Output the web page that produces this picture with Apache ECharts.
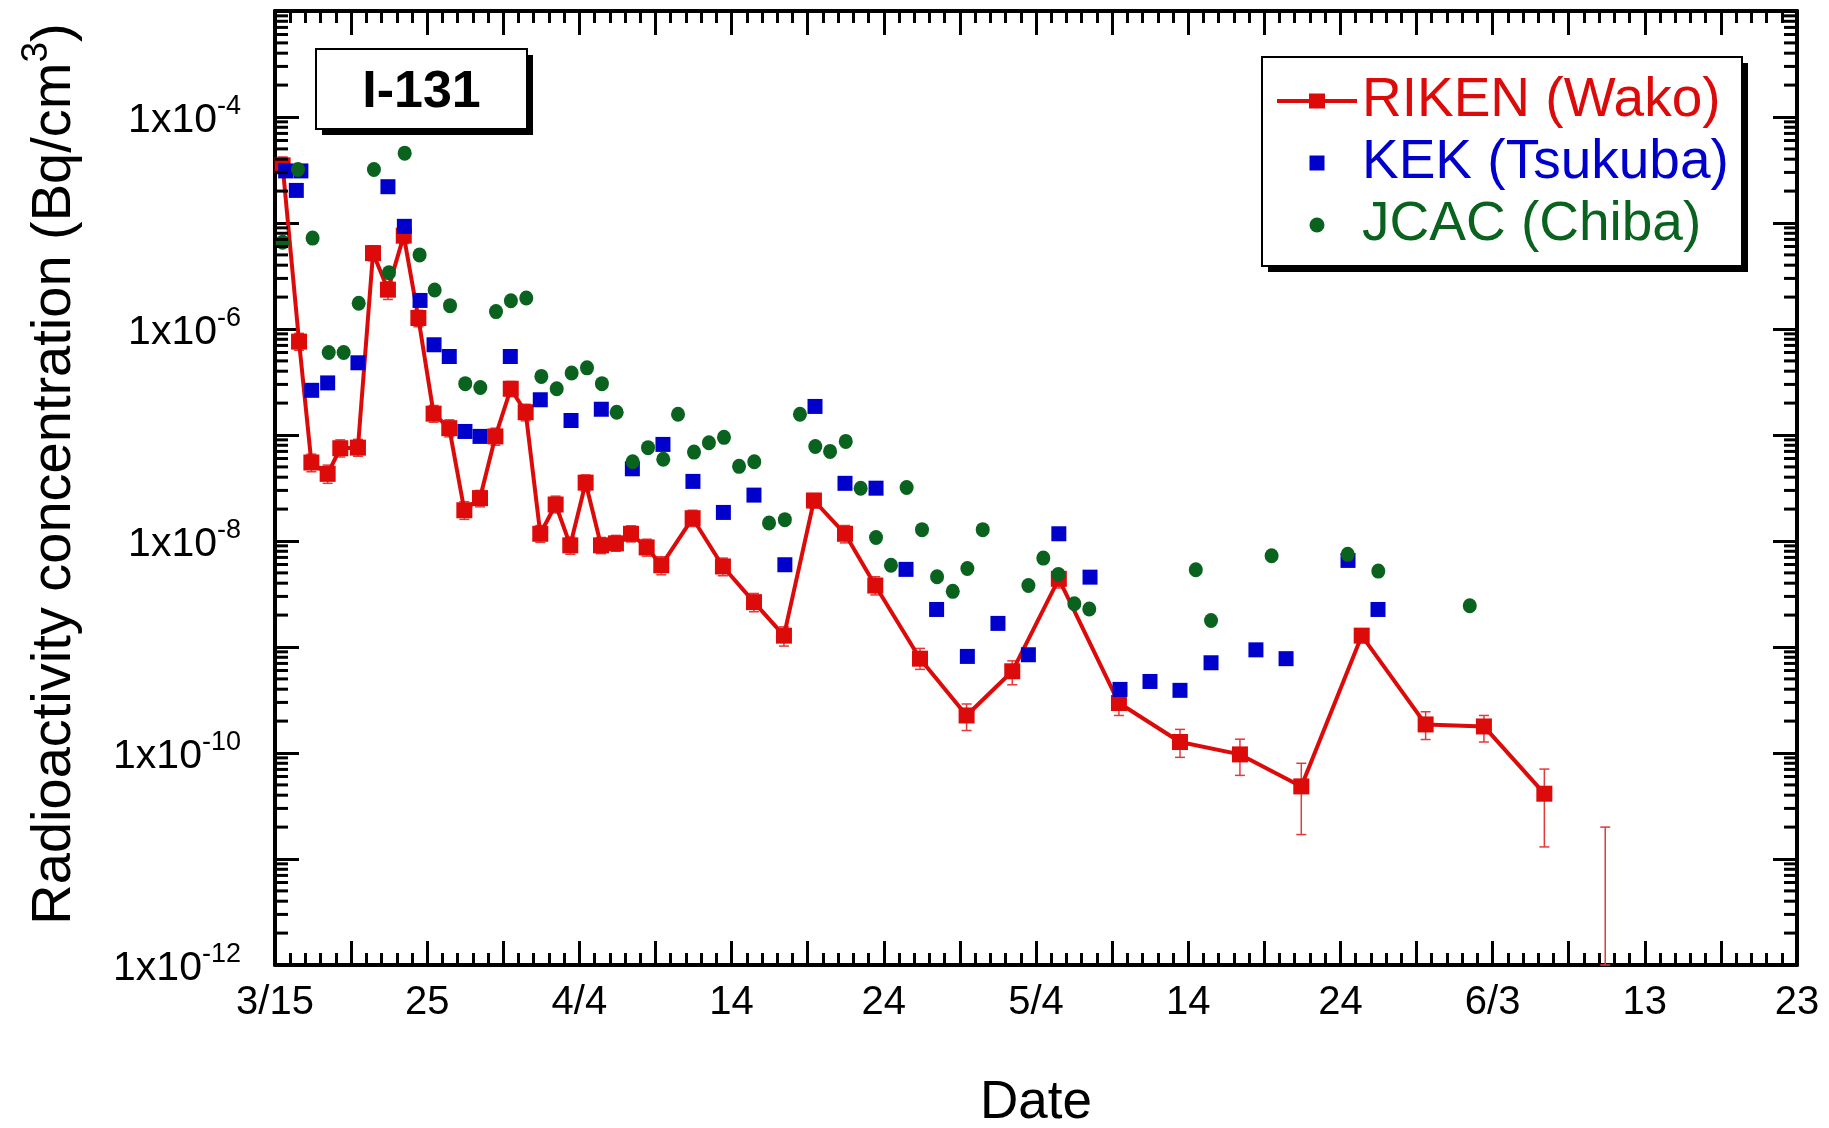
<!DOCTYPE html>
<html>
<head>
<meta charset="utf-8">
<script src="https://cdn.jsdelivr.net/npm/echarts@6/dist/echarts.min.js"></script>
<style>
html,body{margin:0;padding:0;background:#fff;}
#chart{width:1829px;height:1128px;}
</style>
</head>
<body>
<div id="chart"></div>
<script>
// ---------------- data (days since 3/15, Bq/cm3) ----------------
const xTickLabels = ['3/15','25','4/4','14','24','5/4','14','24','6/3','13','23'];

const rikenDays = [0.5,1.58,2.39,3.46,4.29,5.45,6.44,7.42,8.46,9.42,10.42,11.45,12.44,13.47,14.48,15.49,16.47,17.43,18.44,19.4,20.41,21.42,22.4,23.39,24.42,25.38,27.44,29.43,31.47,33.44,35.41,37.45,39.44,42.38,45.44,48.44,51.5,55.45,59.46,63.4,67.43,71.4,75.6,79.43,83.4];
const rikenValues = [3.5e-5,7.6e-7,5.5e-8,4.3e-8,7.5e-8,7.6e-8,5.2e-6,2.35e-6,7.6e-6,1.27e-6,1.59e-7,1.16e-7,1.95e-8,2.54e-8,9.7e-8,2.73e-7,1.64e-7,1.17e-8,2.21e-8,9.1e-9,3.55e-8,9.1e-9,9.5e-9,1.17e-8,8.7e-9,5.9e-9,1.64e-8,5.75e-9,2.65e-9,1.28e-9,2.41e-8,1.17e-8,3.8e-9,7.76e-10,2.26e-10,5.9e-10,4.4e-9,2.96e-10,1.27e-10,9.7e-11,4.84e-11,1.28e-9,1.86e-10,1.78e-10,4.13e-11];
const rikenLow = [2.9e-5,6.3e-7,4.5e-8,3.5e-8,6.2e-8,6.3e-8,4.4e-6,1.9e-6,6.4e-6,1.05e-6,1.32e-7,9.6e-8,1.6e-8,2.1e-8,8.0e-8,2.3e-7,1.36e-7,9.7e-9,1.84e-8,7.5e-9,2.95e-8,7.6e-9,8.0e-9,9.8e-9,7.2e-9,4.8e-9,1.37e-8,4.7e-9,2.15e-9,1.02e-9,2.05e-8,9.6e-9,3.1e-9,6.15e-10,1.63e-10,4.4e-10,3.6e-9,2.26e-10,9.1e-11,6.15e-11,1.7e-11,1.1e-9,1.34e-10,1.27e-10,1.3e-11];
const rikenHigh = [4.2e-5,9.1e-7,6.6e-8,5.2e-8,9.0e-8,9.1e-8,6.1e-6,2.8e-6,8.9e-6,1.5e-6,1.9e-7,1.39e-7,2.35e-8,3.0e-8,1.16e-7,3.2e-7,1.95e-7,1.4e-8,2.65e-8,1.09e-8,4.2e-8,1.08e-8,1.13e-8,1.39e-8,1.04e-8,7.1e-9,1.95e-8,6.9e-9,3.2e-9,1.55e-9,2.8e-8,1.4e-8,4.6e-9,9.7e-10,2.9e-10,7.4e-10,5.3e-9,3.5e-10,1.67e-10,1.35e-10,8.0e-11,1.45e-9,2.45e-10,2.26e-10,7.05e-11];
// RIKEN sample shown only as an upper error bar (value below the axis)
const rikenBarOnlyDays = [87.4];
const rikenBarOnlyLow = [1e-12];
const rikenBarOnlyHigh = [2.0e-11];

const kekDays = [0.7,1.4,1.7,2.41,3.46,5.45,7.42,8.5,9.53,10.45,11.45,12.48,13.47,15.46,17.43,19.45,21.44,23.48,25.49,27.46,29.46,31.47,33.5,35.48,37.45,39.49,41.46,43.47,45.49,47.5,49.5,51.5,53.55,55.52,57.49,59.46,61.5,64.45,66.43,70.5,72.47];
const kekValues = [3.1e-5,2.03e-5,3.1e-5,2.64e-7,3.1e-7,4.8e-7,2.2e-5,9.3e-6,1.86e-6,7.1e-7,5.5e-7,1.08e-7,9.7e-8,5.5e-7,2.15e-7,1.37e-7,1.75e-7,4.8e-8,8.15e-8,3.65e-8,1.86e-8,2.71e-8,5.97e-9,1.86e-7,3.5e-8,3.15e-8,5.4e-9,2.26e-9,8.15e-10,1.67e-9,8.45e-10,1.17e-8,4.56e-9,3.98e-10,4.73e-10,3.9e-10,7.1e-10,9.4e-10,7.76e-10,6.56e-9,2.26e-9];

const jcacDays = [0.5,1.51,2.47,3.53,4.51,5.5,6.5,7.49,8.52,9.5,10.49,11.5,12.5,13.49,14.52,15.5,16.51,17.5,18.51,19.49,20.5,21.48,22.45,23.5,24.51,25.51,26.48,27.53,28.51,29.5,30.49,31.49,32.46,33.5,34.49,35.5,36.47,37.5,38.48,39.49,40.47,41.5,42.51,43.5,44.53,45.49,46.5,49.5,50.48,51.47,52.52,53.5,60.5,61.5,65.48,70.48,72.49,78.5];
const jcacValues = [6.6e-6,3.2e-5,7.2e-6,6.0e-7,6.0e-7,1.75e-6,3.2e-5,3.4e-6,4.56e-5,5.0e-6,2.33e-6,1.66e-6,3.05e-7,2.81e-7,1.46e-6,1.85e-6,1.96e-6,3.57e-7,2.73e-7,3.84e-7,4.3e-7,3.05e-7,1.64e-7,5.6e-8,7.6e-8,5.9e-8,1.57e-7,6.9e-8,8.45e-8,9.5e-8,5.06e-8,5.6e-8,1.48e-8,1.59e-8,1.57e-7,7.8e-8,7.0e-8,8.7e-8,3.15e-8,1.08e-8,5.9e-9,3.2e-8,1.28e-8,4.6e-9,3.35e-9,5.5e-9,1.28e-8,3.8e-9,6.9e-9,4.84e-9,2.56e-9,2.28e-9,5.36e-9,1.78e-9,7.26e-9,7.48e-9,5.2e-9,2.45e-9];

// log-axis minor tick values (2..9 x 10^n)
const yMinorTicks = [];
for (let e = -12; e < -3; e++) { for (let m = 2; m <= 9; m++) { yMinorTicks.push(m * Math.pow(10, e)); } }

// ---------------- styling ----------------
const FONT = "'Liberation Sans', Arial, Helvetica, sans-serif";
const C_RED = '#DD0A0A';
const C_ERR = '#E23A3A';
const C_BLUE = '#0000CC';
const C_GREEN = '#0A621F';

const errData = rikenDays.map((d, i) => [d, rikenLow[i], rikenHigh[i]])
  .concat(rikenBarOnlyDays.map((d, i) => [d, rikenBarOnlyLow[i], rikenBarOnlyHigh[i]]));

const chart = echarts.init(document.getElementById('chart'), null, {renderer: 'canvas'});

const tickRich = {
  m: {fontFamily: FONT, fontSize: 41, color: '#000', lineHeight: 41, verticalAlign: 'bottom'},
  s: {fontFamily: FONT, fontSize: 27, color: '#000', lineHeight: 27, verticalAlign: 'bottom', padding: [0, 0, 21, 0]}
};

// framed boxes with a solid offset shadow (title box and legend box)
function framedBox(x, y, w, h) {
  return [
    {type: 'rect', z: 0, silent: true, shape: {x: x + 6, y: y + 6, width: w, height: h}, style: {fill: '#000'}},
    {type: 'rect', z: 1, silent: true, shape: {x: x, y: y, width: w, height: h}, style: {fill: '#fff', stroke: '#000', lineWidth: 2}}
  ];
}

const option = {
  animation: false,
  backgroundColor: '#fff',
  graphic: {elements: framedBox(316, 49, 211, 80).concat(framedBox(1262, 57, 480, 209))},
  title: {
    text: 'I-131', left: 421.5, top: 67, textAlign: 'center', padding: 0,
    textStyle: {fontFamily: FONT, fontSize: 52, fontWeight: 'bold', color: '#000', lineHeight: 52}
  },
  legend: {
    orient: 'vertical', left: 1277, top: 73, padding: 0,
    itemWidth: 80, itemHeight: 15, itemGap: 6,
    selectedMode: false,
    textStyle: {fontFamily: FONT, fontSize: 55, lineHeight: 56},
    data: [
      {name: 'RIKEN (Wako)', icon: 'path://M0 5.5H32V0H48V5.5H80V9.5H48V15H32V9.5H0Z', textStyle: {color: C_RED}},
      {name: 'KEK (Tsukuba)', icon: 'path://M0 0H15V15H0Z', textStyle: {color: C_BLUE}},
      {name: 'JCAC (Chiba)', icon: 'circle', textStyle: {color: C_GREEN}}
    ]
  },
  grid: {left: 275, right: 32, top: 11, bottom: 163, containLabel: false, outerBoundsMode: 'none'},
  xAxis: [
    {
      type: 'value', min: 0, max: 100, interval: 5, position: 'bottom',
      axisLine: {show: true, onZero: false, lineStyle: {color: '#000', width: 4}},
      axisTick: {show: true, inside: true, length: 24, lineStyle: {color: '#000', width: 3}},
      minorTick: {show: true, splitNumber: 5, length: 12, lineStyle: {color: '#000', width: 3}},
      splitLine: {show: false}, minorSplitLine: {show: false},
      axisLabel: {
        margin: 18, fontFamily: FONT, fontSize: 40, color: '#000', showMinLabel: true, showMaxLabel: true,
        formatter: v => (v % 10 === 0 ? xTickLabels[v / 10] : '')
      },
      name: 'Date', nameLocation: 'middle', nameGap: 112,
      nameTextStyle: {fontFamily: FONT, fontSize: 53, color: '#000'}
    },
    {
      type: 'value', min: 0, max: 100, interval: 5, position: 'top',
      axisLine: {show: true, onZero: false, lineStyle: {color: '#000', width: 4}},
      axisTick: {show: true, inside: true, length: 24, lineStyle: {color: '#000', width: 3}},
      minorTick: {show: true, splitNumber: 5, length: 12, lineStyle: {color: '#000', width: 3}},
      splitLine: {show: false}, axisLabel: {show: false}
    }
  ],
  yAxis: [
    {
      type: 'log', logBase: 10, min: 1e-12, max: 1e-3, splitNumber: 9, position: 'left',
      axisLine: {show: true, onZero: false, lineStyle: {color: '#000', width: 4}},
      axisTick: {show: true, inside: true, length: 24, lineStyle: {color: '#000', width: 3}},
      minorTick: {show: false}, splitLine: {show: false},
      axisLabel: {
        margin: 34, showMinLabel: true, showMaxLabel: true, padding: [8, 0, 0, 0],
        formatter: function (v) {
          const e = Math.round(Math.log10(v));
          if (e % 2 !== 0) return '';
          return '{m|1x10}{s|' + e + '}';
        },
        rich: tickRich
      },
      name: '{n|Radioactivity concentration (Bq/cm}{s|3}{n|)}',
      nameLocation: 'middle', nameGap: 192, nameRotate: 90,
      nameTextStyle: {
        padding: [0, 0, 0, 28],
        rich: {
          n: {fontFamily: FONT, fontSize: 56, color: '#000', lineHeight: 56, verticalAlign: 'bottom'},
          s: {fontFamily: FONT, fontSize: 37, color: '#000', lineHeight: 37, verticalAlign: 'bottom', padding: [0, 0, 28, 0]}
        }
      }
    },
    {
      type: 'log', logBase: 10, min: 1e-12, max: 1e-3, splitNumber: 9, position: 'right',
      axisLine: {show: true, onZero: false, lineStyle: {color: '#000', width: 4}},
      axisTick: {show: true, inside: true, length: 24, lineStyle: {color: '#000', width: 3}},
      minorTick: {show: false}, splitLine: {show: false}, axisLabel: {show: false}
    }
  ],
  series: [
    {
      name: 'yMinorTicks', type: 'custom', coordinateSystem: 'cartesian2d', xAxisIndex: 0, yAxisIndex: 0,
      silent: true, z: 6, clip: false,
      data: yMinorTicks.map(v => [0, v]),
      encode: {x: 0, y: 1},
      renderItem: function (params, api) {
        const cs = params.coordSys;
        const y = api.coord([0, api.value(1)])[1];
        const st = {stroke: '#000', lineWidth: 3};
        return {type: 'group', children: [
          {type: 'line', shape: {x1: cs.x, y1: y, x2: cs.x + 13, y2: y}, style: st},
          {type: 'line', shape: {x1: cs.x + cs.width - 13, y1: y, x2: cs.x + cs.width, y2: y}, style: st}
        ]};
      }
    },
    {
      name: 'RIKEN error', type: 'custom', coordinateSystem: 'cartesian2d', xAxisIndex: 0, yAxisIndex: 0,
      silent: true, z: 2,
      data: errData,
      encode: {x: 0, y: [1, 2]},
      renderItem: function (params, api) {
        const lo = api.coord([api.value(0), api.value(1)]);
        const hi = api.coord([api.value(0), api.value(2)]);
        const w = 5;
        const st = {stroke: C_ERR, lineWidth: 1.5};
        return {type: 'group', children: [
          {type: 'line', shape: {x1: lo[0], y1: lo[1], x2: hi[0], y2: hi[1]}, style: st},
          {type: 'line', shape: {x1: lo[0] - w, y1: lo[1], x2: lo[0] + w, y2: lo[1]}, style: st},
          {type: 'line', shape: {x1: hi[0] - w, y1: hi[1], x2: hi[0] + w, y2: hi[1]}, style: st}
        ]};
      }
    },
    {
      name: 'RIKEN (Wako)', type: 'line', z: 3,
      data: rikenDays.map((d, i) => [d, rikenValues[i]]),
      symbol: 'rect', symbolSize: 16, showAllSymbol: true,
      lineStyle: {color: C_RED, width: 4},
      itemStyle: {color: C_RED, opacity: 1}
    },
    {
      name: 'KEK (Tsukuba)', type: 'scatter', z: 4,
      data: kekDays.map((d, i) => [d, kekValues[i]]),
      symbol: 'rect', symbolSize: 15,
      itemStyle: {color: C_BLUE, opacity: 1}
    },
    {
      name: 'JCAC (Chiba)', type: 'scatter', z: 5,
      data: jcacDays.map((d, i) => [d, jcacValues[i]]),
      symbol: 'circle', symbolSize: [14, 15],
      itemStyle: {color: C_GREEN, opacity: 1}
    }
  ]
};

chart.setOption(option);
</script>
</body>
</html>
